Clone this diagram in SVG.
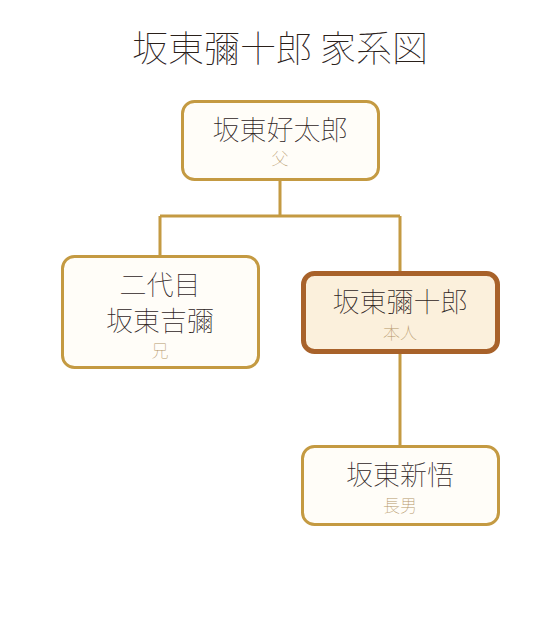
<svg xmlns="http://www.w3.org/2000/svg" width="560" height="628" viewBox="0 0 560 628">
<style>
text{font-family:"Noto Sans CJK JP","Noto Sans CJK SC",sans-serif;font-weight:100;text-anchor:middle}
.title{font-size:36px;fill:#2a201a}
.name{font-size:27px;fill:#2e241d}
.role{font-size:17px;fill:#b59668}
.box{fill:#fffdf8;stroke:#c49a42;stroke-width:3}
.self{fill:#fbf0dc;stroke:#a8622a;stroke-width:5}
.link{fill:none;stroke:#c49a42;stroke-width:3}
</style>
<rect width="560" height="628" fill="#ffffff"/>
<text class="title" x="280" y="62">坂東彌十郎 家系図</text>
<g id="connectors">
<path class="link" d="M280 181V216M160 216H400M160 216V255M400 216V271"/>
<path class="link" d="M400 354V445"/>
</g>
<g id="father">
<rect class="box" x="182.5" y="101.5" width="196" height="78" rx="12"/>
<text class="name" x="280" y="140">坂東好太郎</text>
<text class="role" x="280" y="165">父</text>
</g>
<g id="brother">
<rect class="box" x="62.5" y="256.5" width="196" height="111" rx="12"/>
<text class="name" x="160" y="295">二代目</text>
<text class="name" x="160" y="331">坂東吉彌</text>
<text class="role" x="160" y="357">兄</text>
</g>
<g id="self">
<rect class="self" x="303.5" y="273.5" width="194" height="78" rx="11"/>
<text class="name" x="400" y="312">坂東彌十郎</text>
<text class="role" x="400" y="339">本人</text>
</g>
<g id="son">
<rect class="box" x="302.5" y="446.5" width="196" height="78" rx="12"/>
<text class="name" x="400" y="485">坂東新悟</text>
<text class="role" x="400" y="512">長男</text>
</g>
</svg>
